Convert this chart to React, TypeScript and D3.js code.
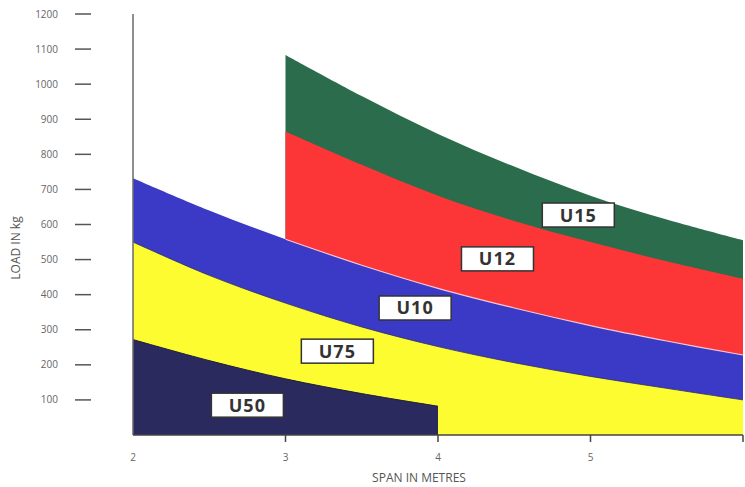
import React from "react";
import * as d3 from "d3";

const spansAll = [2, 2.5, 3, 3.5, 4, 4.5, 5, 5.5, 6];
const spansFrom3 = [3, 3.5, 4, 4.5, 5, 5.5, 6];
const spansTo4 = [2, 2.5, 3, 3.5, 4];

const u15 = [1083, 966, 858, 765, 682, 614, 555];
const u12 = [865, 770, 682, 610, 550, 495, 445];
const u10 = [732, 640, 558, 484, 418, 362, 312, 268, 228];
const u75 = [550, 455, 376, 308, 252, 206, 167, 133, 100];
const u50 = [272, 212, 160, 118, 82];

const yTicks = [100, 200, 300, 400, 500, 600, 700, 800, 900, 1000, 1100, 1200];
const xTicks = [2, 3, 4, 5, 6];
const xTickLabels = [2, 3, 4, 5];

const seriesNames = ["U15", "U12", "U10", "U75", "U50"];
const seriesColors = ["#2b6c4d", "#fc3636", "#3a3ac6", "#fcfc30", "#2b2a5e"];
const labelX = [4.92, 4.39, 3.85, 3.34, 2.75];
const labelY = [627, 502, 362, 239, 85];

export default function App() {
  const W = 745, H = 487;
  const x = d3.scaleLinear().domain([2, 6]).range([133, 743]);
  const y = d3.scaleLinear().domain([0, 1200]).range([435, 14]);

  const mk = (xs: number[], ys: number[]) => xs.map((v, i) => [v, ys[i]] as [number, number]);
  const seriesData = [
    mk(spansFrom3, u15),
    mk(spansFrom3, u12),
    mk(spansAll, u10),
    mk(spansAll, u75),
    mk(spansTo4, u50),
  ];
  const curve = d3.curveCatmullRom.alpha(0.5);
  const area = d3
    .area<[number, number]>()
    .x((d) => x(d[0]))
    .y0(y(0))
    .y1((d) => y(d[1]))
    .curve(curve);
  const line = d3
    .line<[number, number]>()
    .x((d) => x(d[0]))
    .y((d) => y(d[1]))
    .curve(curve);

  const blueUnderRed = seriesData[2].filter((d) => d[0] >= 3);

  return (
    <svg width={W} height={H} style={{ position: "absolute", left: 0, top: 0, background: "#fff" }}>
      {seriesData.map((d, i) => (
        <path key={seriesNames[i]} d={area(d) || ""} fill={seriesColors[i]} />
      ))}
      <path d={line(blueUnderRed) || ""} fill="none" stroke="#f4c8d8" strokeWidth={1.2} />
      <path d={line(seriesData[4]) || ""} fill="none" stroke="#1e1e40" strokeWidth={1} />
      <path d={line(seriesData[3]) || ""} fill="none" stroke="#2a2a70" strokeWidth={0.8} />

      {/* y axis */}
      <line x1={x(2)} x2={x(2)} y1={y(1200)} y2={y(0)} stroke="#6a6a6a" strokeWidth={1.5} />
      {yTicks.map((t) => (
        <g key={t}>
          <line x1={75} x2={91} y1={y(t)} y2={y(t)} stroke="#555" strokeWidth={1.5} />
          <text x={58} y={y(t)} dy="0.35em" textAnchor="end" fontSize={10} fill="#666" fontFamily="Open Sans, sans-serif">
            {t}
          </text>
        </g>
      ))}
      <text
        transform={`translate(20,${248}) rotate(-90)`}
        textAnchor="middle"
        fontSize={12}
        fill="#555"
        fontFamily="Open Sans, sans-serif"
      >
        LOAD IN kg
      </text>

      {/* x axis */}
      <line x1={x(2)} x2={x(6)} y1={y(0)} y2={y(0)} stroke="#444" strokeWidth={1.5} />
      {xTicks.map((t) =>
        t > 2 ? <line key={"t" + t} x1={x(t)} x2={x(t)} y1={y(0)} y2={y(0) + 7} stroke="#444" strokeWidth={1.5} /> : null
      )}
      {xTickLabels.map((t) => (
        <text key={"x" + t} x={x(t)} y={457} dy="0.35em" textAnchor="middle" fontSize={10} fill="#666" fontFamily="Open Sans, sans-serif">
          {t}
        </text>
      ))}
      <text x={419} y={478} dy="0.35em" textAnchor="middle" fontSize={12} fill="#555" fontFamily="Open Sans, sans-serif">
        SPAN IN METRES
      </text>

      {/* labels */}
      {seriesNames.map((n, i) => {
        const cx = x(labelX[i]);
        const cy = y(labelY[i]);
        return (
          <g key={"l" + n}>
            <rect x={cx - 36} y={cy - 12} width={72} height={24} fill="#fff" stroke="#333" strokeWidth={1.5} />
            <text
              x={cx}
              y={cy}
              dy="0.36em"
              textAnchor="middle"
              fontSize={18}
              fontWeight="bold"
              fill="#333"
              fontFamily="Open Sans, sans-serif"
              letterSpacing={1}
            >
              {n}
            </text>
          </g>
        );
      })}
    </svg>
  );
}
